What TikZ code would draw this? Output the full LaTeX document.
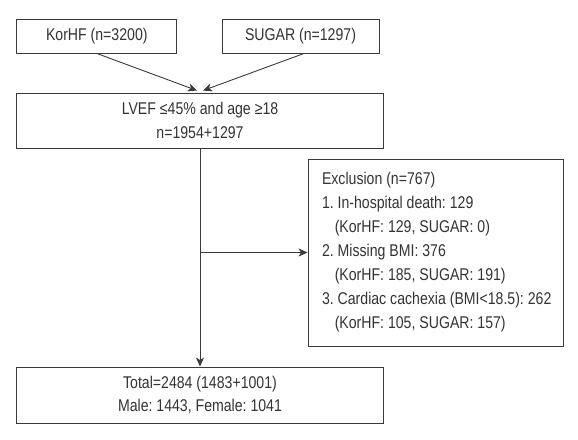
\documentclass[tikz,border=0pt]{standalone}
\usepackage{fontspec}
\setmainfont{Liberation Sans}[FakeStretch=0.83]
\usepackage{tikz}
\usetikzlibrary{arrows.meta,positioning,calc}

\definecolor{linegray}{HTML}{3A3A3A}
\definecolor{textgray}{HTML}{333333}

\begin{document}
\frenchspacing
\begin{tikzpicture}[x=1pt, y=-1pt, >={Stealth[length=9pt,width=8pt,inset=2.5pt]},
  box/.style={draw=linegray,line width=0.9pt,rectangle,inner sep=0pt,text=textgray,align=center},
  link/.style={draw=linegray,line width=0.9pt}]
  \useasboundingbox (0,0) rectangle (578,439);
  % Sources
  \node[box,minimum width=160,minimum height=34,font=\fontsize{17}{20}\selectfont] (korhf) at (96.8,36) {KorHF (n=3200)};
  \node[box,minimum width=157,minimum height=34,font=\fontsize{17}{20}\selectfont] (sugar) at (300.5,36) {SUGAR (n=1297)};
  % Inclusion
  \node[box,minimum width=367,minimum height=55,font=\fontsize{17}{24}\selectfont] (lvef) at (200,120.5) {LVEF ≤45\% and age ≥18\\n=1954+1297};
  % Exclusion
  \node[box,minimum width=255,minimum height=187,align=left,font=\fontsize{17}{24}\selectfont] (excl) at (435.5,252.5)
    {Exclusion (n=767)\\
     1. In-hospital death: 129\\
     \hspace*{0.75em}(KorHF: 129, SUGAR: 0)\\
     2. Missing BMI: 376\\
     \hspace*{0.75em}(KorHF: 185, SUGAR: 191)\\
     \makebox[227pt][l]{3. Cardiac cachexia (BMI<18.5): 262}\\
     \hspace*{0.75em}(KorHF: 105, SUGAR: 157)};
  % Final cohort
  \node[box,minimum width=367,minimum height=56,font=\fontsize{17}{23}\selectfont] (total) at (200,395) {Total=2484 (1483+1001)\\Male: 1443, Female: 1041};
  % Links
  \draw[->,link] (korhf.south) -- ($(lvef.north)+(-3,-2)$);
  \draw[->,link] ($(sugar.south)+(3.5,0)$) -- ($(lvef.north)+(3,-2)$);
  \draw[->,link] (lvef.south) -- (total.north);
  \coordinate (split) at (lvef.south |- excl.west);
  \draw[->,link] (split) -- (excl.west);
\end{tikzpicture}
\end{document}
